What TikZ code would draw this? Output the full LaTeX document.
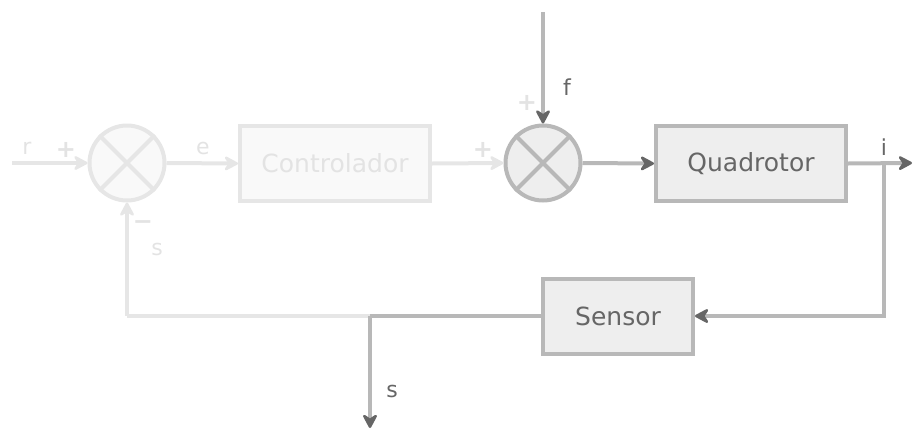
\documentclass[tikz,border=0pt]{standalone}
\usepackage{fontspec}
\setmainfont{DejaVu Sans}
\usetikzlibrary{arrows.meta}
\definecolor{faint}{HTML}{E6E6E6}
\definecolor{faintfill}{HTML}{F9F9F9}
\definecolor{fainttext}{HTML}{E3E3E3}
\definecolor{mid}{HTML}{B8B8B8}
\definecolor{midfill}{HTML}{EEEEEE}
\definecolor{dark}{HTML}{666666}
\tikzset{
  lbl/.style={font=\fontsize{22}{24}\selectfont, inner sep=0pt},
  blk/.style={draw, line width=4pt, minimum height=75pt, inner sep=0pt, font=\fontsize{25}{28}\selectfont},
  sumnode/.style={draw, circle, line width=4pt, minimum size=75pt, inner sep=0pt},
  fadeblk/.style={blk, minimum width=190pt, draw=faint, fill=faintfill, text=fainttext},
  darkblk/.style={blk, draw=mid, fill=midfill, text=dark},
  fline/.style={draw=faint, line width=4pt, -{Stealth[length=17pt, width=18pt, inset=6pt, line width=2.5pt, round, color=faint]}},
  dline/.style={draw=mid, line width=4pt, -{Stealth[length=17pt, width=18pt, inset=6pt, line width=2.5pt, round, color=dark]}},
  fplain/.style={draw=faint, line width=4pt},
  dplain/.style={draw=mid, line width=4pt},
  sign/.style={font=\bfseries\fontsize{24}{24}\selectfont, inner sep=0pt},
}
\begin{document}
\begin{tikzpicture}[x=1pt,y=-1pt]
\useasboundingbox (0,0) rectangle (914,429);
\node[sumnode, draw=faint, fill=faintfill] (s1) at (127,163) {};
\draw[faint, line width=4pt] (s1.north west) -- (s1.south east) (s1.north east) -- (s1.south west);
\node[fadeblk] (ctrl) at (335,163.5) {Controlador};
\node[sumnode, draw=mid, fill=midfill] (s2) at (543,163) {};
\draw[mid, line width=4pt] (s2.north west) -- (s2.south east) (s2.north east) -- (s2.south west);
\node[darkblk, minimum width=190pt] (quad) at (751,163.5) {Quadrotor};
\node[darkblk, minimum width=150pt] (sens) at (618,316) {Sensor};

\coordinate (rin) at (12,163);
\coordinate (ftop) at (543,12);
\coordinate (iout) at (912,163);
\coordinate (ibr) at (884,163);
\coordinate (ibd) at (884,316);
\coordinate (sbr) at (370,316);
\coordinate (sfl) at (127,316);
\coordinate (sout) at (370,428);

\draw[fplain] (sbr) -- (sfl);
\draw[fline] (rin) -- (s1.west);
\draw[fline] (s1.east) -- (ctrl.west);
\draw[fline] (ctrl.east) -- (s2.west);
\draw[fline] (sfl) -- (s1.south);

\draw[dline] (ftop) -- (s2.north);
\draw[dline] (s2.east) -- (quad.west);
\draw[dline] (quad.east) -- (iout);
\draw[dline] (ibr) -- (ibd) -- (sens.east);
\draw[dplain] (sens.west) -- (sbr);
\draw[dline] (sbr) -- (sout);

% labels
\node[lbl, text=fainttext] (lr) at (27,148) {r};
\node[sign, text=fainttext] (p1) at (66,150) {+};
\node[lbl, text=fainttext] (le) at (203,148) {e};
\node[sign, text=fainttext] (m1) at (143,225) {\textminus};
\node[lbl, text=fainttext] (ls1) at (157,249) {s};
\node[sign, text=fainttext] (p2) at (483,150) {+};
\node[sign, text=fainttext] (p3) at (527,103) {+};
\node[lbl, text=dark] (lf) at (567,87) {f};
\node[lbl, text=dark] (li) at (884,147) {i};
\node[lbl, text=dark] (ls2) at (392,391) {s};
\end{tikzpicture}
\end{document}
